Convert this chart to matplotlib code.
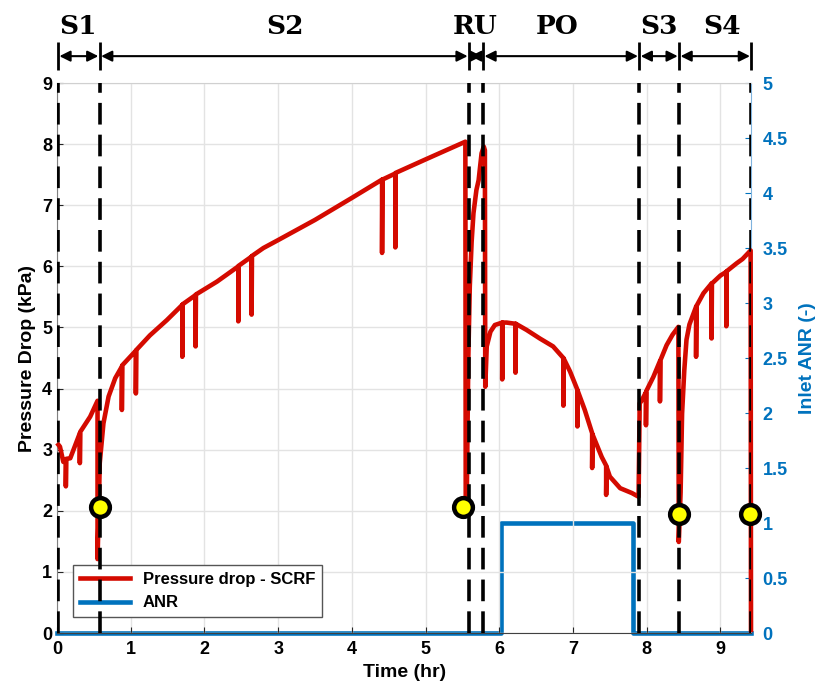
import matplotlib
matplotlib.use('Agg')
import matplotlib.pyplot as plt
from matplotlib.lines import Line2D

plt.rcParams['font.family'] = ['Liberation Sans', 'DejaVu Sans']
plt.rcParams['font.weight'] = 'bold'

# pressure drop across the SCRF (kPa) vs time (hr)
time_hr = [0.02, 0.04, 0.086, 0.12, 0.12, 0.125, 0.18, 0.31, 0.31, 0.315, 0.45, 0.55, 0.55, 0.57,
           0.58, 0.63, 0.70, 0.79, 0.88, 0.88, 0.885, 1.04, 1.07, 1.07, 1.075, 1.26, 1.49,
           1.70, 1.70, 1.705, 1.88, 1.88, 1.885, 2.17, 2.46, 2.46, 2.465, 2.64, 2.64, 2.645,
           2.80, 3.00, 3.50, 4.00, 4.41, 4.41, 4.415, 4.59, 4.59, 4.595, 5.00, 5.54, 5.545,
           5.56, 5.58, 5.60, 5.625, 5.65, 5.69, 5.72, 5.76, 5.79, 5.805, 5.81,
           5.83, 5.88, 5.94, 6.04, 6.04, 6.045, 6.10, 6.22, 6.22, 6.225, 6.37, 6.55, 6.73,
           6.87, 6.87, 6.875, 6.96, 7.06, 7.06, 7.065, 7.16, 7.26, 7.26, 7.265, 7.39, 7.45, 7.45, 7.455,
           7.50, 7.64, 7.80, 7.89, 7.905,
           7.93, 7.99, 7.99, 7.995, 8.09, 8.18, 8.18, 8.185, 8.27, 8.35, 8.43, 8.435,
           8.46, 8.48, 8.51, 8.54, 8.58, 8.67, 8.67, 8.675, 8.77, 8.88, 8.88, 8.885, 9.00,
           9.08, 9.08, 9.085, 9.22, 9.30, 9.41, 9.415]
dp_kpa = [3.08, 3.05, 2.80, 2.82, 2.40, 2.85, 2.86, 3.27, 2.78, 3.29, 3.54, 3.80, 1.21, 2.20,
          2.78, 3.43, 3.87, 4.17, 4.36, 3.65, 4.38, 4.58, 4.62, 3.92, 4.63, 4.87, 5.12,
          5.37, 4.52, 5.38, 5.53, 4.69, 5.54, 5.75, 6.00, 5.10, 6.01, 6.16, 5.21, 6.17,
          6.30, 6.43, 6.76, 7.12, 7.42, 6.22, 7.42, 7.52, 6.31, 7.53, 7.75, 8.04, 2.13,
          2.30, 4.50, 5.67, 6.40, 6.87, 7.25, 7.41, 7.85, 7.96, 7.90, 4.03,
          4.69, 4.93, 5.04, 5.08, 4.15, 5.08, 5.08, 5.06, 4.26, 5.06, 4.96, 4.82, 4.69,
          4.50, 3.72, 4.49, 4.28, 3.98, 3.38, 3.96, 3.65, 3.27, 2.70, 3.25, 2.88, 2.74, 2.26, 2.72,
          2.56, 2.37, 2.29, 2.23, 3.76,
          3.80, 3.94, 3.40, 3.96, 4.19, 4.45, 3.79, 4.46, 4.71, 4.88, 5.01, 1.49,
          2.30, 3.59, 4.30, 4.80, 5.05, 5.34, 4.52, 5.35, 5.56, 5.72, 4.82, 5.72, 5.85,
          5.91, 5.02, 5.92, 6.05, 6.12, 6.26, 0.05]

# inlet ammonia-to-NOx ratio
anr_time = [0.0, 6.03, 6.03, 7.81, 7.81, 9.42]
anr_value = [0, 0, 1, 1, 0, 0]

# phase boundaries and labels
bounds = [0.014, 0.58, 5.59, 5.78, 7.90, 8.44, 9.42]
phase_labels = ['S1', 'S2', 'RU', 'PO', 'S3', 'S4']
label_x = [0.28, 3.09, 5.67, 6.78, 8.17, 9.02]

# yellow markers (hr, kPa)
mark_t = [0.58, 5.51, 8.44, 9.40]
mark_dp = [2.06, 2.06, 1.95, 1.95]

red = '#d40a00'
blue = '#0072bd'

fig = plt.figure(figsize=(8.2, 6.96), dpi=100)
ax = fig.add_axes([0.0695, 0.0905, 0.8468, 0.7902])
ax2 = ax.twinx()
ax.set_zorder(ax2.get_zorder() + 1)
ax.patch.set_visible(False)

ax2.plot(anr_time, anr_value, color=blue, lw=3.3, clip_on=False)
ax2.set_ylim(0, 5)
ax2.set_yticks([0, 0.5, 1, 1.5, 2, 2.5, 3, 3.5, 4, 4.5, 5])
ax2.set_yticklabels(['0', '0.5', '1', '1.5', '2', '2.5', '3', '3.5', '4', '4.5', '5'])
ax2.tick_params(axis='y', colors=blue, labelsize=13, direction='in', length=4, pad=8)
ax2.set_ylabel('Inlet ANR (-)', color=blue, fontsize=14, fontweight='bold', labelpad=8)
ax2.spines['right'].set_color('#7fb3de')
for s in ['top', 'left', 'bottom']:
    ax2.spines[s].set_visible(False)

ax.plot(time_hr, dp_kpa, color=red, lw=3.3, zorder=3, clip_on=False)
ax.vlines(bounds, 0, 9, colors='k', linestyles=(0, (6, 2.8)), lw=2.6, zorder=4)
ax.plot(mark_t, mark_dp, 'o', ms=13.5, mfc='#ffff00', mec='k', mew=3.2, zorder=6, clip_on=False)

ax.set_xlim(0, 9.42)
ax.set_ylim(0, 9)
ax.set_xticks(range(10))
ax.set_yticks(range(10))
ax.tick_params(labelsize=13, direction='in', length=4, colors='#262626')
ax.tick_params(axis='x', pad=6)
ax.tick_params(labelcolor='k')
ax.grid(color='#e3e3e3', lw=1)
ax.set_axisbelow(True)
ax.set_xlabel('Time (hr)', fontsize=14, fontweight='bold')
ax.set_ylabel('Pressure Drop (kPa)', fontsize=14, fontweight='bold')
ax.spines['top'].set_color('#d0d0d0')
ax.spines['right'].set_visible(False)
ax.spines['left'].set_color('#808080')
ax.spines['bottom'].set_color('#404040')

# phase annotation above the plot
ax.vlines(bounds, 9.21, 9.67, colors='k', lw=2, clip_on=False)
for i in range(len(phase_labels)):
    ax.annotate('', xy=(bounds[i + 1], 9.44), xytext=(bounds[i], 9.44),
                arrowprops=dict(arrowstyle='<|-|>', color='k', lw=1.5, shrinkA=1, shrinkB=1,
                                mutation_scale=16),
                annotation_clip=False)
    ax.text(label_x[i], 9.92, phase_labels[i], fontsize=19, family='DejaVu Serif',
            fontweight='bold', ha='center', va='center', clip_on=False)

handles = [Line2D([], [], color=red, lw=3.3), Line2D([], [], color=blue, lw=3.3)]
leg = ax.legend(handles, ['Pressure drop - SCRF', 'ANR'], loc='lower left',
                bbox_to_anchor=(0.023, 0.029), borderaxespad=0,
                handlelength=3.0, fancybox=False, framealpha=1, edgecolor='#555555',
                prop={'weight': 'bold', 'size': 12})
leg.set_zorder(2)

fig.savefig('out.png', dpi=100)
